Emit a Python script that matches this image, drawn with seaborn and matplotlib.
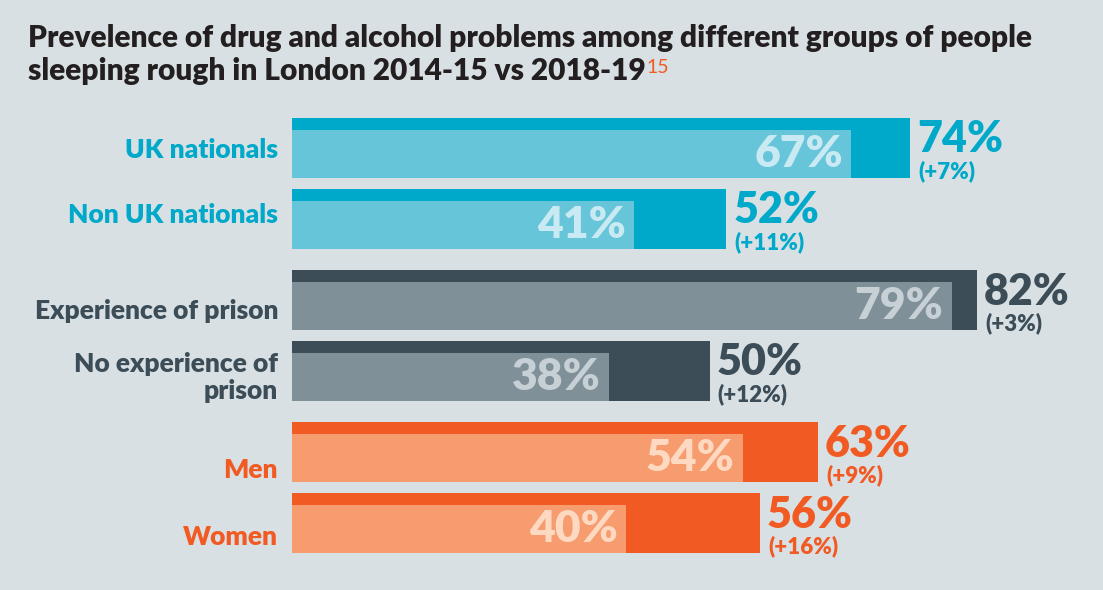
import pandas as pd
import matplotlib.pyplot as plt
import seaborn as sns

# values
categories = ['UK nationals', 'Non UK nationals', 'Experience of prison',
              'No experience of\nprison', 'Men', 'Women']
groups = ['nationality', 'nationality', 'prison', 'prison', 'gender', 'gender']
pct_2014 = [67, 41, 79, 38, 54, 40]
pct_2018 = [74, 52, 82, 50, 63, 56]

# layout: bar centres with a little extra gap between groups
positions = [0, 1, 2.15, 3.15, 4.3, 5.3]
label_shift = [0.03, -0.05, 0.15, 0.1, 0.25, 0.2]

dark = {'nationality': '#00a9c9', 'prison': '#3c4d58', 'gender': '#f15a22'}
light = {'nationality': '#67c5da', 'prison': '#7f9099', 'gender': '#f79c6e'}
inner_txt = {'nationality': '#c9eaf3', 'prison': '#c6d0d5', 'gender': '#fdd9c2'}
bg = '#d8e0e3'

df = pd.DataFrame({'category': categories, 'group': groups,
                   'y2014': pct_2014, 'y2018': pct_2018, 'pos': positions})

dark_h = 0.845
light_h = 0.676
df['pos_light'] = df['pos'] + (dark_h - light_h) / 2

sns.set_style('white')
plt.rcParams['font.family'] = ['Lato', 'DejaVu Sans']

fig = plt.figure(figsize=(11.03, 5.9), dpi=100, facecolor=bg)
ax = fig.add_axes([292 / 1103, 37 / 590, 811 / 1103, 435 / 590])
ax.set_facecolor(bg)

sns.barplot(data=df, x='y2018', y='pos', hue='group', palette=dark, orient='h',
            native_scale=True, width=dark_h, dodge=False, errorbar=None,
            saturation=1, legend=False, linewidth=0, ax=ax)
sns.barplot(data=df, x='y2014', y='pos_light', hue='group', palette=light, orient='h',
            native_scale=True, width=light_h, dodge=False, errorbar=None,
            saturation=1, legend=False, linewidth=0, ax=ax)

ax.set_xlim(0, 811 / 8.35)
ax.set_ylim(positions[-1] + dark_h / 2, positions[0] - dark_h / 2)
ax.set_axis_off()

for i, row in df.iterrows():
    g = row['group']
    # old value inside the light bar
    ax.annotate(f"{row['y2014']}%", xy=(row['y2014'], row['pos_light']),
                xytext=(-6, 0), textcoords='offset points', ha='right', va='center',
                fontsize=32, fontweight='heavy', color=inner_txt[g])
    # new value and change to the right of the dark bar
    top = row['pos'] - dark_h / 2
    bottom = row['pos'] + dark_h / 2
    ax.annotate(f"{row['y2018']}%", xy=(row['y2018'], top),
                xytext=(5, -1), textcoords='offset points', ha='left', va='top',
                fontsize=31, fontweight='heavy', color=dark[g], annotation_clip=False)
    ax.annotate(f"(+{row['y2018'] - row['y2014']}%)", xy=(row['y2018'], bottom),
                xytext=(6, -3), textcoords='offset points', ha='left', va='bottom',
                fontsize=16, fontweight='heavy', color=dark[g], annotation_clip=False)
    # category label
    ax.annotate(row['category'], xy=(0, row['pos'] + label_shift[i]),
                xytext=(-10, 0), textcoords='offset points', ha='right', va='center',
                fontsize=19, fontweight='heavy', color=dark[g], linespacing=1.15,
                annotation_clip=False)

fig.text(28 / 1103, 1 - 47 / 590,
         'Prevelence of drug and alcohol problems among different groups of people',
         fontsize=21.5, fontweight='heavy', color='#231f20', ha='left', va='baseline')
t2 = fig.text(28 / 1103, 1 - 80 / 590, 'sleeping rough in London 2014-15 vs 2018-19',
              fontsize=21.5, fontweight='heavy', color='#231f20', ha='left', va='baseline')
fig.canvas.draw()
bb = t2.get_window_extent()
fig.text((bb.x1 + 1) / 1103, 1 - 73 / 590, '15', fontsize=14, color='#f15a22',
         ha='left', va='baseline')

fig.savefig('out.png', dpi=100, facecolor=bg)
